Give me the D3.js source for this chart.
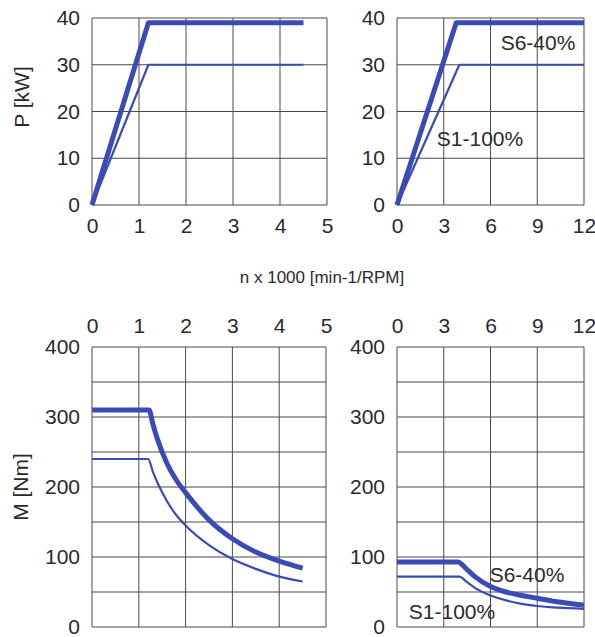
<!DOCTYPE html>
<html><head><meta charset="utf-8">
<script src="https://cdn.jsdelivr.net/npm/d3@7"></script>
<style>
body{margin:0;background:#fff;}
svg text{font-family:"Liberation Sans",Arial,sans-serif;fill:#2a2a2a;}
</style></head>
<body><svg id="c" width="595" height="637"></svg>
<script>
// ---- data ----
const powerTicksLeftX = [0,1,2,3,4,5];
const powerTicksRightX = [0,3,6,9,12];
const powerTicksY = [0,10,20,30,40];
const torqueTicksY = [0,100,200,300,400];
const torqueGridY = [0,50,100,150,200,250,300,350,400];

const pLeftS6 = [[0,0],[1.2,39],[4.5,39]];
const pLeftS1 = [[0,0],[1.2,30],[4.5,30]];
const pRightS6 = [[0,0],[3.8,39],[12,39]];
const pRightS1 = [[0,0],[4.0,30],[12,30]];

const mLeftS6 = [[0,310],[1.22,310],[1.3,290],[1.4,268],[1.6,234],[1.8,210],[2,192],[2.5,153],[3,126],[3.5,107],[4,94],[4.5,84]];
const mLeftS1 = [[0,240],[1.2,240],[1.3,222],[1.4,206],[1.6,180],[1.8,160],[2,145],[2.5,117],[3,97],[3.5,83],[4,72],[4.5,65]];
const mRightS6 = [[0,93],[3.9,93],[4.5,82],[5,72],[6,58],[7,50],[8,45],[9,41],[10,37],[11,34],[12,31]];
const mRightS1 = [[0,72],[4.0,72],[4.5,64],[5,56],[6,45],[7,38],[8,33],[9,30],[10,28],[11,27],[12,26]];

const labelS6 = "S6-40%";
const labelS1 = "S1-100%";
const xTitle = "n x 1000 [min-1/RPM]";
const pTitle = "P [kW]";
const mTitle = "M [Nm]";

// ---- drawing ----
const svg = d3.select("#c");
const blue = "#3a4bb6";
const gridC = "#4a4a4a";
const FS = 21;

function panel(o){
  const x = d3.scaleLinear().domain(o.xd).range([o.x0,o.x1]);
  const y = d3.scaleLinear().domain(o.yd).range([o.y1,o.y0]);
  const g = svg.append("g");
  g.selectAll(".gv").data(o.xt).enter().append("line")
    .attr("x1",d=>x(d)).attr("x2",d=>x(d)).attr("y1",o.y0).attr("y2",o.y1)
    .attr("stroke",gridC).attr("stroke-width",1);
  g.selectAll(".gh").data(o.yg).enter().append("line")
    .attr("y1",d=>y(d)).attr("y2",d=>y(d)).attr("x1",o.x0).attr("x2",o.x1)
    .attr("stroke",gridC).attr("stroke-width",1);
  const ax = o.xTop ? d3.axisTop(x) : d3.axisBottom(x);
  const xa = g.append("g").attr("transform",`translate(0,${o.xTop? o.y0-14 : o.y1+13})`)
    .call(ax.tickValues(o.xt).tickSize(0).tickPadding(0).tickFormat(d3.format("d")));
  xa.select(".domain").remove();
  xa.selectAll("text").style("font-size",FS+"px").attr("fill","#2a2a2a")
    .attr("dy", o.xTop ? "0em" : "0.71em");
  const ya = g.append("g").attr("transform",`translate(${o.x0-12},0)`)
    .call(d3.axisLeft(y).tickValues(o.yt).tickSize(0).tickPadding(0).tickFormat(d3.format("d")));
  ya.select(".domain").remove();
  ya.selectAll("text").style("font-size",FS+"px").attr("fill","#2a2a2a");
  const line = d3.line().x(d=>x(d[0])).y(d=>y(d[1])).curve(o.curve||d3.curveLinear);
  g.append("path").attr("d",line(o.s1)).attr("fill","none").attr("stroke",blue).attr("stroke-width",2.2).attr("stroke-linejoin","round");
  g.append("path").attr("d",line(o.s6)).attr("fill","none").attr("stroke",blue).attr("stroke-width",5).attr("stroke-linejoin","round");
  return {x,y,g};
}

const tl = panel({x0:92,x1:327,y0:18,y1:205,xd:[0,5],yd:[0,40],xt:powerTicksLeftX,yt:powerTicksY,yg:powerTicksY,s6:pLeftS6,s1:pLeftS1});
const tr = panel({x0:397,x1:584,y0:18,y1:205,xd:[0,12],yd:[0,40],xt:powerTicksRightX,yt:powerTicksY,yg:powerTicksY,s6:pRightS6,s1:pRightS1});
const bl = panel({x0:92,x1:326,y0:347,y1:627,xd:[0,5],yd:[0,400],xt:powerTicksLeftX,yt:torqueTicksY,yg:torqueGridY,s6:mLeftS6,s1:mLeftS1,xTop:true,curve:d3.curveMonotoneX});
const br = panel({x0:397,x1:584,y0:347,y1:627,xd:[0,12],yd:[0,400],xt:powerTicksRightX,yt:torqueTicksY,yg:torqueGridY,s6:mRightS6,s1:mRightS1,xTop:true,curve:d3.curveMonotoneX});

// series labels
tr.g.append("text").attr("x",538).attr("y",43).attr("dy","0.35em").attr("text-anchor","middle").style("font-size",FS+"px").text(labelS6);
tr.g.append("text").attr("x",480).attr("y",139).attr("dy","0.35em").attr("text-anchor","middle").style("font-size",FS+"px").text(labelS1);
br.g.append("text").attr("x",527).attr("y",575).attr("dy","0.35em").attr("text-anchor","middle").style("font-size",FS+"px").text(labelS6);
br.g.append("text").attr("x",452).attr("y",612).attr("dy","0.35em").attr("text-anchor","middle").style("font-size",FS+"px").text(labelS1);

// titles
svg.append("text").attr("x",322).attr("y",277).attr("dy","0.35em").attr("text-anchor","middle").style("font-size","17px").text(xTitle);
svg.append("text").attr("transform","translate(22,97) rotate(-90)").attr("dy","0.35em").attr("text-anchor","middle").style("font-size","21px").text(pTitle);
svg.append("text").attr("transform","translate(21,487) rotate(-90)").attr("dy","0.35em").attr("text-anchor","middle").style("font-size","21px").text(mTitle);
</script></body></html>
